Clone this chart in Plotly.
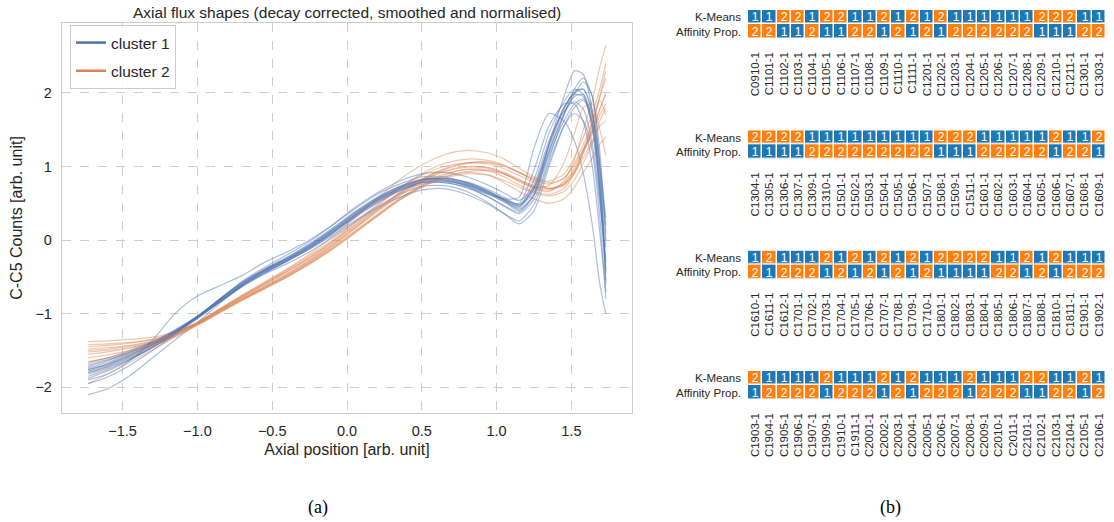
import plotly.graph_objects as go

# ---------------- data: left panel (axial flux shapes) ----------------
axial_x = [-1.73, -1.6, -1.45, -1.3, -1.15, -1.0, -0.85, -0.7, -0.55, -0.4, -0.25, -0.1, 0.05, 0.2,
           0.35, 0.5, 0.65, 0.8, 0.95, 1.05, 1.15, 1.25, 1.35, 1.45, 1.52, 1.58, 1.64, 1.69, 1.73]

cluster1_curves = [
    [-1.78,-1.70,-1.58,-1.43,-1.25,-1.05,-0.82,-0.60,-0.42,-0.27,-0.10,0.10,0.32,0.52,0.68,0.79,0.80,0.74,0.62,0.52,0.44,0.75,1.35,1.75,1.88,1.78,1.30,0.50,-0.25],
    [-1.85,-1.76,-1.62,-1.45,-1.26,-1.04,-0.80,-0.58,-0.40,-0.24,-0.06,0.14,0.36,0.55,0.70,0.80,0.81,0.73,0.58,0.46,0.36,0.55,1.10,1.70,2.05,2.20,1.95,1.00,-0.60],
    [-1.72,-1.64,-1.53,-1.40,-1.24,-1.05,-0.84,-0.63,-0.45,-0.29,-0.12,0.08,0.30,0.50,0.66,0.76,0.78,0.72,0.62,0.56,0.58,1.25,1.72,1.62,1.35,0.90,0.20,-0.60,-1.00],
    [-2.10,-2.02,-1.84,-1.60,-1.36,-1.12,-0.86,-0.62,-0.44,-0.28,-0.12,0.06,0.26,0.45,0.62,0.73,0.74,0.66,0.50,0.36,0.22,0.40,1.00,1.55,1.80,1.90,1.60,0.80,-0.45],
    [-1.90,-1.82,-1.64,-1.36,-1.00,-0.76,-0.62,-0.48,-0.30,-0.16,0.00,0.20,0.42,0.62,0.76,0.86,0.86,0.78,0.66,0.56,0.48,0.70,1.30,1.80,2.00,2.05,1.70,0.90,0.10],
    [-1.80,-1.72,-1.60,-1.44,-1.26,-1.06,-0.84,-0.62,-0.44,-0.28,-0.10,0.10,0.33,0.54,0.70,0.82,0.84,0.79,0.68,0.58,0.48,0.70,1.25,1.78,2.02,2.05,1.75,1.05,0.30],
    [-1.76,-1.68,-1.56,-1.42,-1.24,-1.04,-0.81,-0.58,-0.40,-0.25,-0.08,0.12,0.34,0.54,0.70,0.81,0.83,0.77,0.65,0.54,0.42,0.62,1.30,1.95,2.30,2.25,1.75,0.70,-0.40],
    [-1.74,-1.66,-1.55,-1.41,-1.24,-1.04,-0.80,-0.56,-0.37,-0.20,-0.02,0.20,0.44,0.64,0.80,0.90,0.92,0.86,0.74,0.64,0.54,0.72,1.30,1.80,1.98,1.95,1.55,0.75,-0.10],
    [-1.82,-1.74,-1.62,-1.46,-1.27,-1.06,-0.84,-0.63,-0.46,-0.32,-0.16,0.03,0.24,0.43,0.58,0.68,0.70,0.62,0.48,0.36,0.26,0.48,1.05,1.55,1.72,1.62,1.20,0.30,-0.80],
    [-1.66,-1.60,-1.50,-1.38,-1.22,-1.03,-0.80,-0.57,-0.39,-0.23,-0.05,0.16,0.38,0.58,0.73,0.83,0.84,0.78,0.66,0.55,0.46,0.66,1.20,1.70,1.98,2.15,1.95,1.20,0.00],
    [-1.95,-1.86,-1.70,-1.50,-1.29,-1.07,-0.84,-0.61,-0.42,-0.26,-0.08,0.13,0.35,0.56,0.72,0.82,0.82,0.75,0.63,0.52,0.40,0.62,1.20,1.72,1.95,1.98,1.60,0.60,-0.55],
    [-1.70,-1.63,-1.52,-1.39,-1.23,-1.04,-0.82,-0.60,-0.41,-0.25,-0.07,0.14,0.37,0.57,0.72,0.82,0.83,0.76,0.64,0.54,0.46,0.82,1.45,1.88,2.05,1.98,1.50,0.60,-0.30],
    [-1.88,-1.78,-1.63,-1.46,-1.27,-1.05,-0.81,-0.59,-0.41,-0.26,-0.09,0.11,0.33,0.53,0.68,0.78,0.78,0.71,0.58,0.47,0.38,0.60,1.15,1.62,1.85,1.92,1.70,1.00,0.20],
    [-1.76,-1.69,-1.57,-1.42,-1.25,-1.05,-0.83,-0.61,-0.43,-0.28,-0.11,0.09,0.31,0.51,0.67,0.78,0.80,0.75,0.64,0.55,0.50,0.95,1.55,1.85,1.85,1.60,1.00,0.10,-0.70],
]

cluster2_curves = [
    [-1.55,-1.52,-1.47,-1.40,-1.28,-1.13,-0.95,-0.78,-0.62,-0.45,-0.27,-0.06,0.17,0.40,0.62,0.80,0.93,0.99,0.98,0.92,0.82,0.72,0.68,0.78,0.98,1.22,1.45,1.70,1.85],
    [-1.38,-1.37,-1.35,-1.32,-1.25,-1.12,-0.95,-0.77,-0.60,-0.42,-0.23,-0.02,0.22,0.46,0.70,0.90,1.04,1.10,1.08,1.02,0.92,0.82,0.76,0.84,1.05,1.30,1.60,1.95,2.20],
    [-1.80,-1.72,-1.60,-1.46,-1.30,-1.14,-0.97,-0.80,-0.64,-0.48,-0.30,-0.10,0.12,0.34,0.56,0.74,0.88,0.96,0.96,0.90,0.80,0.70,0.66,0.80,1.10,1.50,1.90,2.35,2.65],
    [-1.50,-1.48,-1.44,-1.38,-1.27,-1.12,-0.94,-0.76,-0.59,-0.42,-0.24,-0.03,0.20,0.43,0.64,0.82,0.94,1.00,0.98,0.90,0.80,0.72,0.74,1.05,1.45,1.80,1.85,1.50,1.15],
    [-1.60,-1.56,-1.50,-1.42,-1.30,-1.15,-0.98,-0.81,-0.65,-0.49,-0.31,-0.11,0.11,0.34,0.56,0.74,0.86,0.92,0.88,0.78,0.66,0.56,0.50,0.56,0.72,0.92,1.12,1.30,1.40],
    [-1.45,-1.43,-1.40,-1.35,-1.26,-1.12,-0.94,-0.75,-0.57,-0.39,-0.19,0.04,0.30,0.56,0.82,1.02,1.16,1.22,1.18,1.10,0.98,0.86,0.78,0.84,1.02,1.24,1.50,1.78,1.98],
    [-1.65,-1.60,-1.52,-1.42,-1.29,-1.14,-0.97,-0.80,-0.64,-0.47,-0.29,-0.08,0.15,0.38,0.60,0.78,0.90,0.96,0.94,0.86,0.75,0.66,0.62,0.70,0.90,1.18,1.48,1.78,2.00],
    [-1.95,-1.82,-1.66,-1.49,-1.32,-1.15,-0.98,-0.81,-0.66,-0.50,-0.33,-0.13,0.09,0.32,0.54,0.72,0.85,0.93,0.94,0.90,0.82,0.74,0.70,0.76,0.92,1.12,1.35,1.55,1.62],
    [-1.52,-1.50,-1.46,-1.39,-1.27,-1.12,-0.93,-0.75,-0.58,-0.40,-0.21,0.00,0.24,0.48,0.70,0.88,1.00,1.05,1.03,0.97,0.88,0.78,0.70,0.76,0.95,1.20,1.55,1.95,2.30],
    [-1.42,-1.41,-1.39,-1.35,-1.27,-1.13,-0.96,-0.79,-0.63,-0.46,-0.28,-0.07,0.16,0.40,0.63,0.82,0.96,1.04,1.05,1.00,0.92,0.84,0.80,0.90,1.12,1.40,1.72,2.05,2.40],
    [-1.68,-1.62,-1.54,-1.44,-1.31,-1.16,-0.99,-0.82,-0.66,-0.50,-0.32,-0.12,0.10,0.32,0.54,0.72,0.84,0.90,0.88,0.81,0.72,0.64,0.60,0.66,0.82,1.05,1.32,1.62,1.80],
    [-1.48,-1.46,-1.43,-1.37,-1.27,-1.13,-0.95,-0.77,-0.60,-0.43,-0.25,-0.04,0.19,0.42,0.64,0.83,0.97,1.05,1.06,1.01,0.92,0.80,0.70,0.74,0.92,1.22,1.62,1.90,1.70],
]

x_ticks = [-1.5, -1.0, -0.5, 0.0, 0.5, 1.0, 1.5]
y_ticks = [-2, -1, 0, 1, 2]

# ---------------- data: right panel (cluster assignment grid) ----------------
row_names = ["K-Means", "Affinity Prop."]

samples_1 = ["C0910-1","C1101-1","C1102-1","C1103-1","C1104-1","C1105-1","C1106-1","C1107-1","C1108-1",
             "C1109-1","C1110-1","C1111-1","C1201-1","C1202-1","C1203-1","C1204-1","C1205-1","C1206-1",
             "C1207-1","C1208-1","C1209-1","C1210-1","C1211-1","C1301-1","C1303-1"]
kmeans_1 = [1,1,2,2,1,2,2,1,1,2,1,2,1,2,1,1,1,1,1,1,2,2,2,1,1]
affprop_1 = [2,2,1,1,2,1,1,2,2,1,2,1,2,1,2,2,2,2,2,2,1,1,1,2,2]

samples_2 = ["C1304-1","C1305-1","C1306-1","C1307-1","C1309-1","C1310-1","C1501-1","C1502-1","C1503-1",
             "C1504-1","C1505-1","C1506-1","C1507-1","C1508-1","C1509-1","C1511-1","C1601-1","C1602-1",
             "C1603-1","C1604-1","C1605-1","C1606-1","C1607-1","C1608-1","C1609-1"]
kmeans_2 = [2,2,2,2,1,1,1,1,1,1,1,1,1,2,2,2,1,1,1,1,1,2,1,1,2]
affprop_2 = [1,1,1,1,2,2,2,2,2,2,2,2,2,1,1,1,2,2,2,2,2,1,2,2,1]

samples_3 = ["C1610-1","C1611-1","C1612-1","C1701-1","C1702-1","C1703-1","C1704-1","C1705-1","C1706-1",
             "C1707-1","C1708-1","C1709-1","C1710-1","C1801-1","C1802-1","C1803-1","C1804-1","C1805-1",
             "C1806-1","C1807-1","C1808-1","C1810-1","C1811-1","C1901-1","C1902-1"]
kmeans_3 = [1,2,1,1,1,2,1,2,1,2,1,2,1,2,2,2,2,1,1,2,1,2,1,1,1]
affprop_3 = [2,1,2,2,2,1,2,1,2,1,2,1,2,1,1,1,1,2,2,1,2,1,2,2,2]

samples_4 = ["C1903-1","C1904-1","C1905-1","C1906-1","C1907-1","C1909-1","C1910-1","C1911-1","C2001-1",
             "C2002-1","C2003-1","C2004-1","C2005-1","C2006-1","C2007-1","C2008-1","C2009-1","C2010-1",
             "C2011-1","C2101-1","C2102-1","C2103-1","C2104-1","C2105-1","C2106-1"]
kmeans_4 = [2,1,1,1,1,2,1,1,1,2,1,2,1,1,1,2,1,1,1,2,2,1,1,2,1]
affprop_4 = [1,2,2,2,2,1,2,2,2,1,2,1,2,2,2,1,2,2,2,1,1,2,2,1,2]

# ---------------- styling ----------------
BLUE = "#4c72b0"
ORANGE = "#dd8452"
CELL_BLUE = "#1f77b4"
CELL_ORANGE = "#ff7f0e"
FONT = "Liberation Sans, Arial, sans-serif"
TXT = "#262626"
W, H = 1114, 522

fig = go.Figure()

n = max(len(cluster1_curves), len(cluster2_curves))
for i in range(n):
    if i < len(cluster1_curves):
        fig.add_trace(go.Scatter(x=axial_x, y=cluster1_curves[i], mode="lines",
                                 line=dict(color=BLUE, width=1.2, shape="spline", smoothing=0.7),
                                 opacity=0.45, showlegend=False, hoverinfo="skip"))
    if i < len(cluster2_curves):
        fig.add_trace(go.Scatter(x=axial_x, y=cluster2_curves[i], mode="lines",
                                 line=dict(color=ORANGE, width=1.2, shape="spline", smoothing=0.7),
                                 opacity=0.45, showlegend=False, hoverinfo="skip"))

fig.add_trace(go.Scatter(x=[None], y=[None], mode="lines", line=dict(color=BLUE, width=2.5),
                         name="cluster 1", legendgroup="c1"))
fig.add_trace(go.Scatter(x=[None], y=[None], mode="lines", line=dict(color=ORANGE, width=2.5),
                         name="cluster 2", legendgroup="c2"))

# heatmap blocks
blocks = [(samples_1, kmeans_1, affprop_1), (samples_2, kmeans_2, affprop_2),
          (samples_3, kmeans_3, affprop_3), (samples_4, kmeans_4, affprop_4)]
colorscale = [[0, CELL_BLUE], [0.5, CELL_BLUE], [0.5, CELL_ORANGE], [1, CELL_ORANGE]]
grid_x0, grid_x1 = 748 / W, 1106 / W
axis_layout = {}
for k, (labels, km, ap) in enumerate(blocks):
    ax = k + 2
    fig.add_trace(go.Heatmap(z=[km, ap], x=labels, y=row_names, zmin=1, zmax=2,
                             colorscale=colorscale, showscale=False, xgap=1.5, ygap=1.5,
                             texttemplate="%{z}", textfont=dict(color="white", size=12, family=FONT),
                             hoverinfo="skip", xaxis=f"x{ax}", yaxis=f"y{ax}"))
    top = 10 + 120.3 * k
    bot = top + 28.8
    axis_layout[f"xaxis{ax}"] = dict(domain=[grid_x0, grid_x1], anchor=f"y{ax}", showgrid=False,
                                     zeroline=False, showline=False, ticks="", tickangle=-90,
                                     tickfont=dict(size=11.5, color=TXT, family=FONT),
                                     ticklabelstandoff=10, fixedrange=True)
    axis_layout[f"yaxis{ax}"] = dict(domain=[1 - bot / H, 1 - top / H], anchor=f"x{ax}", showgrid=False,
                                     zeroline=False, showline=False, ticks="", autorange="reversed",
                                     tickfont=dict(size=11.5, color=TXT, family=FONT),
                                     ticklabelstandoff=6, fixedrange=True)

fig.update_layout(
    width=W, height=H, margin=dict(l=0, r=0, t=0, b=0),
    paper_bgcolor="white", plot_bgcolor="white",
    font=dict(family=FONT, color=TXT),
    xaxis=dict(domain=[62 / W, 632 / W], range=[-1.905, 1.905], tickvals=x_ticks, tickformat=".1f",
               showgrid=True, gridcolor="#cccccc", griddash="dash", gridwidth=1,
               showline=True, linecolor="#cccccc", linewidth=1.3, mirror=True, zeroline=False,
               ticks="", tickfont=dict(size=14.5, color=TXT), ticklabelstandoff=4,
               title=dict(text="Axial position [arb. unit]", font=dict(size=16, color=TXT), standoff=6)),
    yaxis=dict(domain=[1 - 413 / H, 1 - 23 / H], range=[-2.35, 2.95], tickvals=y_ticks,
               showgrid=True, gridcolor="#cccccc", griddash="dash", gridwidth=1,
               showline=True, linecolor="#cccccc", linewidth=1.3, mirror=True, zeroline=False,
               ticks="", tickfont=dict(size=14.5, color=TXT), ticklabelstandoff=6,
               title=dict(text="C-C5 Counts [arb. unit]", font=dict(size=16, color=TXT), standoff=8)),
    legend=dict(x=70 / W, y=1 - 25 / H, xanchor="left", yanchor="top",
                bgcolor="rgba(255,255,255,0.85)", bordercolor="#cccccc", borderwidth=1,
                font=dict(size=15.5, color=TXT), tracegroupgap=5),
    annotations=[
        dict(text="Axial flux shapes (decay corrected, smoothed and normalised)", x=347 / W, y=1 - 13 / H,
             xref="paper", yref="paper", showarrow=False, xanchor="center", yanchor="middle",
             font=dict(size=15.5, color=TXT)),
        dict(text="(a)", x=318 / W, y=1 - 507 / H, xref="paper", yref="paper", showarrow=False,
             xanchor="center", yanchor="middle", font=dict(size=18, family="Liberation Serif, serif", color="black")),
        dict(text="(b)", x=890 / W, y=1 - 507 / H, xref="paper", yref="paper", showarrow=False,
             xanchor="center", yanchor="middle", font=dict(size=18, family="Liberation Serif, serif", color="black")),
    ],
    **axis_layout,
)

fig.write_html("out.html")
